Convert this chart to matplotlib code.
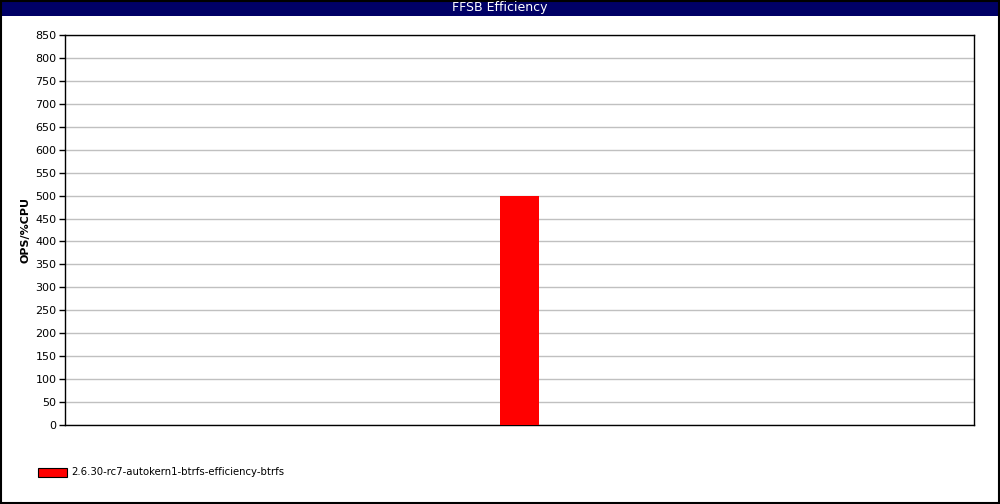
import matplotlib
matplotlib.use('Agg')
import matplotlib.pyplot as plt
from matplotlib.patches import Rectangle

# Data
categories = ['2.6.30-rc7-autokern1-btrfs-efficiency-btrfs']
values = [500]
colors = ['#ff0000']
y_ticks = list(range(0, 851, 50))

fig = plt.figure(figsize=(10, 5.04), dpi=100)
fig.patch.set_facecolor('white')

# title bar + outer border
fig.patches.append(Rectangle((0, 1 - 16 / 504), 1, 16 / 504, transform=fig.transFigure,
                             facecolor='#000066', edgecolor='none', zorder=1))
fig.patches.append(Rectangle((0.001, 0.002), 0.998, 0.996, transform=fig.transFigure,
                             facecolor='none', edgecolor='black', linewidth=1.5, zorder=2))
fig.text(0.5, 1 - 8 / 504, 'FFSB Efficiency', color='white', ha='center', va='center', fontsize=9)

ax = fig.add_axes([0.065, 1 - 425 / 504, 0.909, 390 / 504])
ax.bar([0], values, width=0.044, color=colors, zorder=3)
ax.set_xlim(-0.5, 0.5)
ax.set_ylim(0, 850)
ax.set_yticks(y_ticks)
ax.set_xticks([])
ax.tick_params(axis='y', labelsize=8, length=4, width=1, pad=2)
ax.yaxis.grid(True, color='#c0c0c0', linewidth=1, zorder=0)
ax.set_axisbelow(True)
for s in ax.spines.values():
    s.set_linewidth(1)
ax.set_ylabel('OPS/%CPU', fontsize=8, fontweight='bold')
ax.yaxis.set_label_coords(-0.0385, 0.5)

# legend
fig.patches.append(Rectangle((38 / 1000, 1 - 477 / 504), 29 / 1000, 9 / 504, transform=fig.transFigure,
                             facecolor=colors[0], edgecolor='black', linewidth=0.8, zorder=3))
fig.text(71 / 1000, 1 - 472 / 504, categories[0], fontsize=7.3, va='center', ha='left')

fig.savefig('out.png', dpi=100)
